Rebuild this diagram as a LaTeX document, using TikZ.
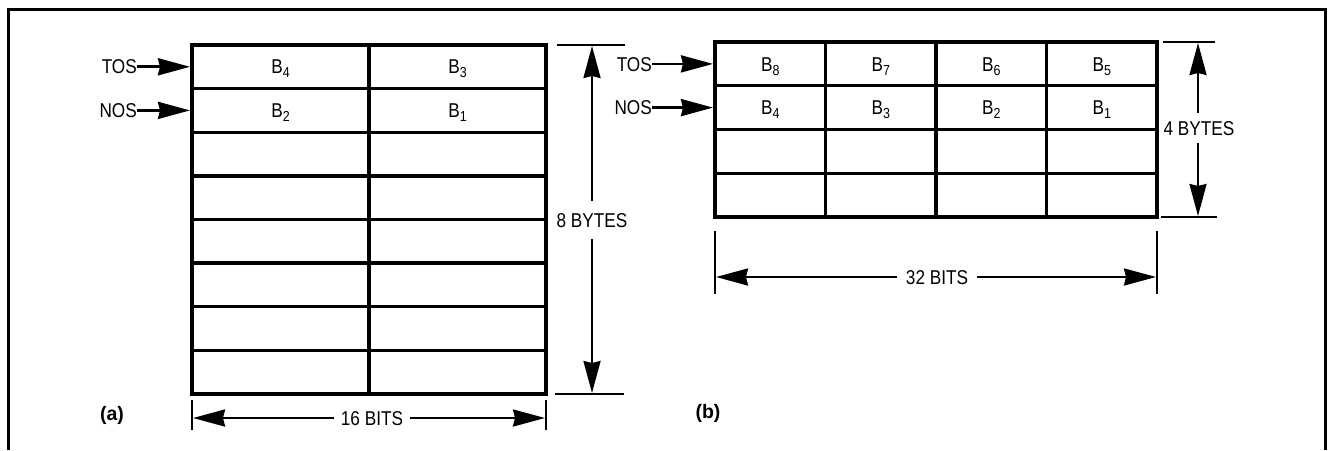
\documentclass[tikz,border=0pt]{standalone}
\usepackage{fontspec}
\setmainfont{Liberation Sans}[FakeStretch=0.86]
\newfontfamily\labfont{Liberation Sans}
\usetikzlibrary{arrows.meta}
\newcommand{\Bsub}[1]{B\raisebox{-4pt}{\fontsize{14.5}{14.5}\selectfont #1}}
\tikzset{
  grille/.style={line width=3.3pt},
  cadre/.style={line width=3pt},
  cote/.style={line width=2.3pt},
  fleche/.style={line width=2.8pt,-{Stealth[length=32pt,width=17pt,inset=2pt]}},
  texte/.style={font=\fontsize{20}{23}\selectfont,text height=14.3pt,text depth=0pt,inner sep=0pt},
  titre/.style={font=\labfont\bfseries\fontsize{19.5}{22}\selectfont,inner sep=0pt}
}
\begin{document}
\begin{tikzpicture}[x=1pt,y=-1pt]
\useasboundingbox (0,0) rectangle (1330,450);
% Cadre
\draw[cadre] (8,450) -- (8,9) -- (1325,9) -- (1325,450);
% Pile (a) : 16 bits
\draw[grille] (192,45) rectangle (546,394);
\foreach \i in {1,...,7}
  \draw[grille] (192,45+\i*43.625) -- (546,45+\i*43.625);
\draw[grille] (369,45) -- (369,394);
% Octets (a)
\node[texte] (a4) at (280.5,66.8) {\Bsub{4}};
\node[texte] (a3) at (457.5,66.8) {\Bsub{3}};
\node[texte] (a2) at (280.5,110.4) {\Bsub{2}};
\node[texte] (a1) at (457.5,110.4) {\Bsub{1}};
% TOS / NOS (a)
\node[texte,anchor=east] (tosa) at (137,66.8) {TOS};
\node[texte,anchor=east] (nosa) at (137,110.4) {NOS};
\coordinate (pa1) at (190,66.8);
\coordinate (pa2) at (190,110.4);
\draw[fleche] (tosa) -- (pa1);
\draw[fleche] (nosa) -- (pa2);
% Cote verticale (a)
\draw[cote] (557,45) -- (625,45);
\draw[cote] (555,394) -- (624,394);
\node[texte,inner ysep=12pt] (huit) at (592,220) {8 BYTES};
\coordinate (ha) at (592,46);
\coordinate (ba) at (592,393);
\draw[fleche,line width=2.3pt] (huit) -- (ha);
\draw[fleche,line width=2.3pt] (huit) -- (ba);
% Cote horizontale (a)
\draw[cote] (192,400) -- (192,430);
\draw[cote] (546,400) -- (546,430);
\node[texte,inner xsep=7pt] (seize) at (372,418) {16 BITS};
\coordinate (ga) at (193,418);
\coordinate (da) at (545,418);
\draw[fleche,line width=2.3pt] (seize) -- (ga);
\draw[fleche,line width=2.3pt] (seize) -- (da);
\node[titre] (la) at (112,415) {(a)};
% Pile (b) : 32 bits
\draw[grille] (715,42) rectangle (1157,217);
\foreach \i in {1,2,3}
  \draw[grille] (715,42+\i*43.75) -- (1157,42+\i*43.75);
\foreach \i in {1,2,3}
  \draw[grille] (715+\i*110.5,42) -- (715+\i*110.5,217);
% Octets (b)
\node[texte] (b8) at (770.25,63.9) {\Bsub{8}};
\node[texte] (b7) at (880.75,63.9) {\Bsub{7}};
\node[texte] (b6) at (991.25,63.9) {\Bsub{6}};
\node[texte] (b5) at (1101.75,63.9) {\Bsub{5}};
\node[texte] (b4) at (770.25,107.6) {\Bsub{4}};
\node[texte] (b3) at (880.75,107.6) {\Bsub{3}};
\node[texte] (b2) at (991.25,107.6) {\Bsub{2}};
\node[texte] (b1) at (1101.75,107.6) {\Bsub{1}};
% TOS / NOS (b)
\node[texte,anchor=east] (tosb) at (652,63.9) {TOS};
\node[texte,anchor=east] (nosb) at (652,107.6) {NOS};
\coordinate (pb1) at (713,63.9);
\coordinate (pb2) at (713,107.6);
\draw[fleche] (tosb) -- (pb1);
\draw[fleche] (nosb) -- (pb2);
% Cote verticale (b)
\draw[cote] (1163,42) -- (1215,42);
\draw[cote] (1161,217) -- (1217,217);
\node[texte,inner ysep=8pt] (quatre) at (1199,128) {4 BYTES};
\coordinate (hb) at (1198,43);
\coordinate (bb) at (1198,216);
\draw[fleche,line width=2.3pt] (quatre.north -| hb) -- (hb);
\draw[fleche,line width=2.3pt] (quatre.south -| bb) -- (bb);
% Cote horizontale (b)
\draw[cote] (715,231) -- (715,294);
\draw[cote] (1157,231) -- (1157,294);
\node[texte,inner xsep=9pt] (trente) at (937,277) {32 BITS};
\coordinate (gb) at (716,277);
\coordinate (db) at (1156,277);
\draw[fleche,line width=2.3pt] (trente) -- (gb);
\draw[fleche,line width=2.3pt] (trente) -- (db);
\node[titre] (lb) at (708,413) {(b)};
\end{tikzpicture}
\end{document}
